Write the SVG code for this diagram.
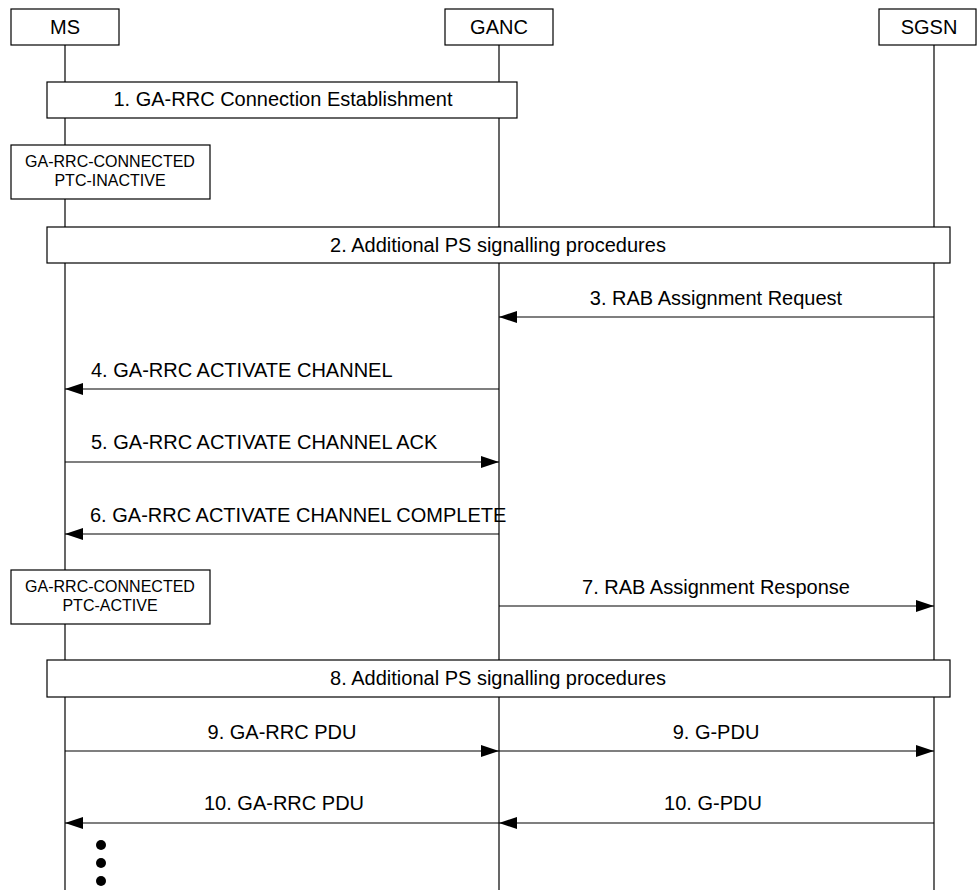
<svg xmlns="http://www.w3.org/2000/svg" width="977" height="890" viewBox="0 0 977 890">
<defs>
<style>
.box{fill:#fff;stroke:#000;stroke-width:1.2}
.life{stroke:#000;stroke-width:1.2;fill:none}
.msg{stroke:#000;stroke-width:1.2;fill:none}
text{font-family:"Liberation Sans",Arial,sans-serif;fill:#000}
.t20{font-size:20px}
.t16{font-size:16px}
.mid{text-anchor:middle}
</style>
<marker id="ah" viewBox="0 0 18 12" refX="18" refY="6" markerWidth="18" markerHeight="12" markerUnits="userSpaceOnUse" orient="auto">
<path d="M0,0 L18,6 L0,12 Z" fill="#000"/>
</marker>
</defs>
<rect width="977" height="890" fill="#fff"/>
<g id="lifelines">
<line class="life" x1="65" y1="45" x2="65" y2="890"/>
<line class="life" x1="499" y1="45" x2="499" y2="890"/>
<line class="life" x1="934" y1="45" x2="934" y2="890"/>
</g>
<g id="MS"><rect class="box" x="11" y="9" width="108" height="36"/><text class="t20 mid" x="65" y="34">MS</text></g>
<g id="GANC"><rect class="box" x="445" y="9" width="108" height="36"/><text class="t20 mid" x="499" y="34">GANC</text></g>
<g id="SGSN"><rect class="box" x="879" y="9" width="97" height="36"/><text class="t20 mid" x="929" y="34">SGSN</text></g>
<g id="step1"><rect class="box" x="47" y="82" width="470" height="36"/><text class="t20 mid" x="283" y="106">1. GA-RRC Connection Establishment</text></g>
<g id="state1"><rect class="box" x="11" y="145" width="199" height="54"/><text class="t16 mid" x="110" y="167">GA-RRC-CONNECTED</text><text class="t16 mid" x="110" y="186">PTC-INACTIVE</text></g>
<g id="step2"><rect class="box" x="47" y="227" width="903" height="36"/><text class="t20 mid" x="498" y="252">2. Additional PS signalling procedures</text></g>
<g id="state2"><rect class="box" x="11" y="570" width="199" height="54"/><text class="t16 mid" x="110" y="592">GA-RRC-CONNECTED</text><text class="t16 mid" x="110" y="611">PTC-ACTIVE</text></g>
<g id="step8"><rect class="box" x="47" y="660" width="903" height="37"/><text class="t20 mid" x="498" y="685">8. Additional PS signalling procedures</text></g>
<g id="connectors">
<line class="msg" x1="934" y1="317" x2="499" y2="317" marker-end="url(#ah)"/>
<text class="t20 mid" x="716" y="305">3. RAB Assignment Request</text>
<line class="msg" x1="499" y1="389" x2="65" y2="389" marker-end="url(#ah)"/>
<text class="t20" x="91" y="377">4. GA-RRC ACTIVATE CHANNEL</text>
<line class="msg" x1="65" y1="462" x2="499" y2="462" marker-end="url(#ah)"/>
<text class="t20" x="91" y="449">5. GA-RRC ACTIVATE CHANNEL ACK</text>
<line class="msg" x1="499" y1="534" x2="65" y2="534" marker-end="url(#ah)"/>
<text class="t20" x="90" y="522">6. GA-RRC ACTIVATE CHANNEL COMPLETE</text>
<line class="msg" x1="499" y1="606" x2="934" y2="606" marker-end="url(#ah)"/>
<text class="t20 mid" x="716" y="594">7. RAB Assignment Response</text>
<line class="msg" x1="65" y1="751" x2="499" y2="751" marker-end="url(#ah)"/>
<text class="t20 mid" x="282" y="739">9. GA-RRC PDU</text>
<line class="msg" x1="499" y1="751" x2="934" y2="751" marker-end="url(#ah)"/>
<text class="t20 mid" x="716" y="739">9. G-PDU</text>
<line class="msg" x1="499" y1="823" x2="65" y2="823" marker-end="url(#ah)"/>
<text class="t20 mid" x="284" y="810">10. GA-RRC PDU</text>
<line class="msg" x1="934" y1="823" x2="499" y2="823" marker-end="url(#ah)"/>
<text class="t20 mid" x="713" y="810">10. G-PDU</text>
</g>
<g id="dots">
<circle cx="101" cy="845" r="5"/>
<circle cx="101" cy="863" r="5"/>
<circle cx="101" cy="881" r="5"/>
</g>
</svg>
